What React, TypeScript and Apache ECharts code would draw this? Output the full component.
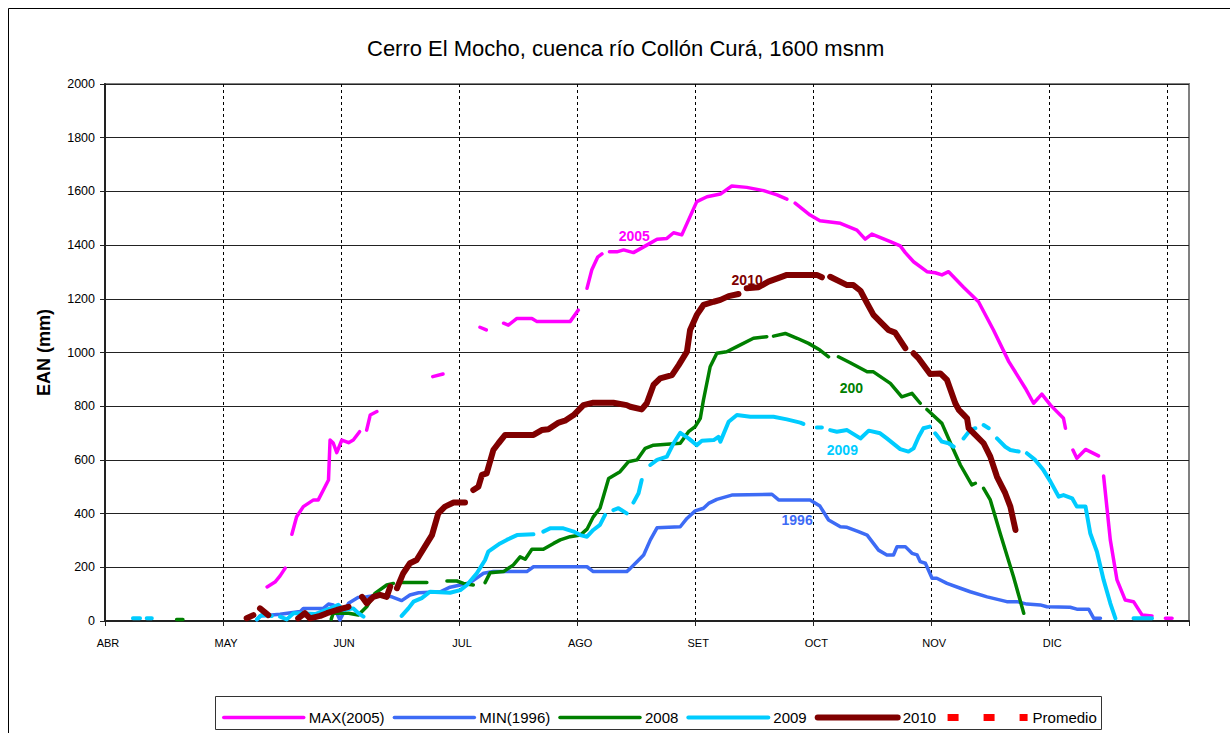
import React, { useEffect, useRef } from 'react';
import * as echarts from 'echarts';

const FONT = 'Arial, "Liberation Sans", Helvetica, sans-serif';

const TITLE = 'Cerro El Mocho, cuenca río Collón Curá, 1600 msnm';
const Y_NAME = 'EAN (mm)';
const MONTHS = ['ABR', 'MAY', 'JUN', 'JUL', 'AGO', 'SET', 'OCT', 'NOV', 'DIC'];

// x = days since 1 April (30 days per month on the axis), y = EAN in mm
type Pt = [number, number];

const MAX_2005: Pt[][] = [
  [[41.2, 127], [43.2, 145], [44.5, 168], [45.8, 197]],
  [[47.5, 323], [48.7, 388], [50.4, 426], [53.0, 451], [54.2, 451], [55.5, 488], [56.8, 525], [57.2, 674], [58.0, 663], [58.9, 627], [60.2, 674], [61.9, 664], [63.1, 674], [64.7, 705]],
  [[66.5, 711], [67.4, 767], [69.1, 780]],
  [[83.3, 910], [85.9, 920]],
  [[95.3, 1094], [96.9, 1084]],
  [[101.3, 1109], [102.5, 1102], [104.7, 1127], [108.5, 1127], [109.8, 1115], [118.2, 1115], [120.3, 1158]],
  [[122.5, 1239], [123.7, 1307], [125.2, 1355], [126.3, 1367]],
  [[128.2, 1375], [130.1, 1375], [131.8, 1382], [134.3, 1372], [137.7, 1400], [140.3, 1422], [142.8, 1425], [144.5, 1446], [146.6, 1438], [150.4, 1562], [153.0, 1580], [156.4, 1590], [159.3, 1620], [163.1, 1615], [167.4, 1603], [170.8, 1587], [173.3, 1571]],
  [[175.4, 1556], [179.2, 1512], [181.7, 1491], [186.9, 1481], [191.1, 1456], [193.2, 1422], [194.9, 1441], [199.6, 1413], [202.1, 1397], [203.4, 1372], [205.5, 1338], [208.9, 1301], [211.0, 1297], [212.7, 1289], [214.4, 1301], [218.2, 1243], [222.0, 1189], [225.8, 1084], [229.7, 966], [233.9, 867], [236.0, 811], [238.1, 845], [240.3, 804], [243.6, 755], [244.1, 718]],
  [[246.0, 637], [247.0, 606], [249.2, 639], [252.5, 615]],
  [[253.8, 540], [255.5, 302], [257.2, 153], [259.3, 78], [261.4, 72], [263.6, 22], [266.1, 19]],
  [[269.5, 10], [271.2, 10]],
];

const MIN_1996: Pt[][] = [
  [[38.6, 4], [39.4, 19], [44.5, 25], [49.6, 35], [50.4, 47], [55.5, 47], [56.8, 63], [58.0, 60], [59.7, 4], [61.9, 66], [64.4, 88], [66.5, 90], [69.9, 97], [72.9, 90], [75.4, 76], [77.5, 97], [79.7, 105], [85.2, 109], [87.7, 126], [90.3, 134], [92.8, 143], [96.2, 178], [98.7, 184], [107.2, 184], [108.9, 202], [122.5, 202], [124.1, 184], [132.6, 184], [133.5, 196], [135.2, 221], [136.9, 246], [138.6, 302], [140.3, 347], [146.2, 351], [147.9, 382], [150.0, 410], [152.1, 420], [153.4, 438], [155.5, 453], [159.3, 469], [169.5, 472], [171.2, 451], [179.2, 451], [181.7, 428], [183.9, 376], [186.9, 351], [188.6, 349], [191.5, 333], [193.7, 320], [196.6, 264], [198.7, 246], [200.4, 246], [201.3, 277], [203.4, 277], [205.1, 252], [206.4, 246], [207.2, 221], [208.5, 215], [210.2, 159], [211.4, 159], [214.0, 140], [217.4, 122], [219.9, 109], [224.2, 90], [229.2, 72], [231.8, 72], [234.3, 63], [237.7, 60], [239.4, 53], [245.3, 51], [247.0, 44], [250.0, 44], [251.3, 10], [253.0, 10]],
];

const Y_2008: Pt[][] = [
  [[18.2, 6], [19.8, 6]],
  [[57.5, 7], [58.0, 29], [61.9, 29], [64.4, 22], [66.5, 53], [68.6, 103], [71.6, 134], [73.3, 140]],
  [[75.0, 143], [81.8, 143]],
  [[86.9, 149], [89.4, 149], [91.1, 140], [93.6, 134]],
  [[96.6, 143], [97.9, 180], [101.3, 184], [103.8, 209], [105.5, 239], [106.8, 230], [108.5, 267], [111.4, 267], [114.0, 289], [115.7, 302], [118.2, 314], [120.8, 320], [122.5, 342], [124.1, 388], [125.8, 420], [128.0, 531], [130.9, 556], [133.0, 593], [135.2, 600], [137.3, 643], [139.4, 655], [146.2, 662], [148.3, 705], [150.0, 724], [151.3, 755], [152.1, 823], [153.8, 947], [155.5, 997], [158.0, 1003], [160.6, 1022], [164.8, 1053], [168.2, 1059]],
  [[169.9, 1061], [172.9, 1071], [175.9, 1053], [178.8, 1034], [181.7, 1009], [183.9, 984]],
  [[186.4, 984], [189.4, 962], [193.7, 928], [195.3, 928], [199.6, 885], [202.5, 835], [205.1, 848], [207.2, 811]],
  [[208.9, 788], [212.7, 736], [215.3, 649], [217.4, 581], [220.3, 507], [221.2, 513]],
  [[223.3, 494], [225.0, 451], [227.5, 327], [230.9, 165], [233.5, 29]],
];

const Y_2009: Pt[][] = [
  [[7.1, 10], [8.9, 10]],
  [[10.6, 10], [11.9, 10]],
  [[38.6, 6], [39.8, 22], [42.4, 19]],
  [[44.5, 16], [46.2, 6], [47.9, 29], [49.6, 29], [53.4, 26], [57.2, 47], [59.3, 60], [60.6, 41], [63.1, 47], [64.4, 29], [65.7, 16]],
  [[75.4, 19], [77.1, 47], [78.4, 72], [80.5, 85], [82.6, 109], [87.7, 105], [90.3, 115], [92.0, 134], [94.5, 178], [96.6, 227], [97.4, 258], [100.4, 289], [102.1, 302], [104.7, 320], [108.9, 323]],
  [[111.4, 333], [113.1, 345], [116.5, 345], [119.1, 333], [120.8, 320], [122.5, 314], [124.1, 339], [125.8, 358], [127.1, 395]],
  [[129.2, 413], [130.5, 420], [132.6, 401]],
  [[134.3, 441], [135.6, 476], [136.4, 525]],
  [[138.6, 581], [140.3, 600], [142.8, 612], [144.5, 662], [146.2, 701], [148.3, 680], [150.4, 655], [151.7, 671], [154.7, 674], [155.9, 686], [156.4, 668], [158.5, 742], [160.6, 767], [164.0, 761], [169.9, 761], [173.3, 751], [176.7, 739], [177.5, 734]],
  [[180.9, 721], [182.2, 721]],
  [[184.3, 711], [186.0, 705], [188.6, 711], [192.0, 680], [194.1, 709], [197.0, 699], [198.7, 680], [202.1, 640], [204.2, 631], [205.5, 643], [206.8, 686], [208.0, 718], [209.6, 724]],
  [[211.0, 699], [212.7, 668], [214.4, 662], [215.7, 649]],
  [[218.2, 680], [219.9, 711], [221.2, 718]],
  [[223.3, 730], [224.6, 718]],
  [[226.7, 680], [228.8, 649], [230.1, 637], [232.2, 631]],
  [[234.3, 625], [236.4, 600], [238.5, 562], [240.3, 519], [242.4, 463], [243.6, 469], [245.8, 457], [247.0, 426], [249.2, 426], [250.4, 327], [252.1, 258], [253.8, 153], [255.5, 66], [256.8, 10]],
  [[261.4, 10], [266.1, 10]],
];

const Y_2010: Pt[][] = [
  [[36.0, 10], [37.7, 22]],
  [[39.4, 47], [41.5, 22]],
  [[49.1, 10], [50.8, 29], [52.1, 10], [54.7, 19], [56.4, 29], [58.9, 41], [61.9, 53]],
  [[65.3, 90], [66.5, 66], [68.2, 90], [69.9, 97], [71.6, 90], [72.5, 128]],
  [[74.2, 122], [75.8, 178], [77.5, 215], [79.2, 227], [81.8, 289], [83.1, 320], [84.7, 401], [86.4, 426], [88.6, 441], [91.5, 441]],
  [[93.6, 488], [94.9, 500], [95.8, 544], [97.0, 550], [98.7, 637], [100.0, 662], [101.7, 693], [108.9, 693], [111.0, 711], [112.7, 714], [115.3, 739], [116.9, 746], [119.1, 767], [121.6, 804], [124.1, 813], [129.2, 813], [132.6, 804], [133.5, 798], [136.4, 788], [137.7, 811], [139.4, 879], [141.1, 904], [144.1, 916], [145.8, 953], [147.9, 1003], [148.7, 1084], [150.4, 1140], [152.1, 1177], [154.7, 1189], [156.4, 1196], [158.5, 1210], [161.0, 1218]],
  [[163.1, 1239], [166.1, 1243], [168.6, 1264], [171.6, 1280], [173.3, 1289], [180.9, 1289], [182.2, 1280]],
  [[184.3, 1282], [188.6, 1251], [190.2, 1251], [192.0, 1230], [193.7, 1183], [195.3, 1140], [197.0, 1115], [199.1, 1084], [200.8, 1074], [203.4, 1016]],
  [[205.5, 997], [206.8, 978], [209.7, 920], [212.3, 922], [214.0, 898], [216.1, 811], [217.0, 786], [219.1, 755], [219.5, 718], [220.8, 699], [223.3, 662], [225.0, 612], [226.7, 537], [228.8, 476], [230.1, 426], [231.4, 339]],
];

const PROMEDIO: Pt[][] = [];

const SERIES_NAMES = ['MAX(2005)', 'MIN(1996)', '2008', '2009', '2010', 'Promedio'];
const SERIES_COLORS = ['#FF00FF', '#3D6BF5', '#008000', '#00CCFF', '#800000', '#FF0000'];
const SERIES_WIDTHS = [3.5, 3.5, 3.5, 4, 6, 7];
const SERIES_LABELS = ['2005', '1996', '200', '2009', '2010', ''];
const LABEL_POS: (Pt | null)[] = [[134.5, 1434], [175.9, 376], [189.7, 868], [187.4, 637], [163.2, 1270], null];

function toData(segs: Pt[][]) {
  const out: any[] = [];
  segs.forEach((s, i) => {
    if (i > 0) out.push(['-', '-']);
    s.forEach((p) => out.push(p));
  });
  return out;
}

export default function App() {
  const ref = useRef<HTMLDivElement>(null);
  useEffect(() => {
    if (!ref.current) return;
    const chart = echarts.init(ref.current, null, { renderer: 'svg' });
    const all = [MAX_2005, MIN_1996, Y_2008, Y_2009, Y_2010, PROMEDIO];
    const series = all.map((segs, i) => {
      const lp = LABEL_POS[i];
      const s: any = {
        name: SERIES_NAMES[i],
        type: 'line',
        data: toData(segs),
        symbol: 'none',
        showSymbol: false,
        connectNulls: false,
        z: 2 + i,
        itemStyle: { color: SERIES_COLORS[i] },
        lineStyle: {
          color: SERIES_COLORS[i],
          width: SERIES_WIDTHS[i],
          cap: i === 5 ? 'butt' : 'round',
          join: 'round',
          type: i === 5 ? [11, 25] : 'solid',
        },
      };
      if (lp) {
        s.markPoint = {
          symbol: 'circle',
          symbolSize: 0,
          silent: true,
          label: {
            show: true,
            position: 'inside',
            formatter: SERIES_LABELS[i],
            color: SERIES_COLORS[i],
            fontWeight: 'bold',
            fontSize: 14,
            fontFamily: FONT,
          },
          data: [{ coord: lp }],
        };
      }
      return s;
    });
    chart.setOption({
      animation: false,
      backgroundColor: '#ffffff',
      title: {
        text: TITLE,
        left: 362,
        top: 32,
        textStyle: { fontSize: 22, fontWeight: 'normal', color: '#000', fontFamily: FONT },
      },
      grid: {
        left: 105,
        top: 84,
        right: 41,
        bottom: 112,
        show: true,
        borderColor: '#808080',
        borderWidth: 2,
        backgroundColor: '#ffffff',
      },
      legend: {
        left: 217,
        top: 705,
        itemWidth: 80,
        itemHeight: 16,
        itemGap: 8,
        data: SERIES_NAMES,
        lineStyle: { width: 'inherit' },
        itemStyle: { opacity: 0, borderWidth: 0 },
        textStyle: { fontSize: 15, color: '#000', fontFamily: FONT },
      },
      xAxis: {
        type: 'value',
        min: 0,
        max: 275.5,
        interval: 30,
        axisLine: { show: true, onZero: false, lineStyle: { color: '#222', width: 2 } },
        axisTick: { show: true, length: 5, lineStyle: { color: '#222' } },
        axisLabel: {
          formatter: (v: number) => (v % 30 === 0 && MONTHS[v / 30]) || '',
          fontSize: 11,
          color: '#000',
          fontFamily: FONT,
          margin: 16,
          padding: [0, 0, 0, 6],
        },
        splitLine: {
          show: true,
          showMinLine: false,
          showMaxLine: false,
          lineStyle: { color: '#000', type: [3, 3], width: 1 },
        },
      },
      yAxis: {
        type: 'value',
        min: 0,
        max: 2000,
        interval: 200,
        name: Y_NAME,
        nameLocation: 'middle',
        nameGap: 52,
        nameRotate: 90,
        nameTextStyle: { fontWeight: 'bold', fontSize: 18, color: '#000', fontFamily: FONT },
        axisLine: { show: true, lineStyle: { color: '#222', width: 2 } },
        axisTick: { show: true, length: 5, lineStyle: { color: '#222' } },
        axisLabel: {
          formatter: (v: number) => String(v),
          fontSize: 12.5,
          color: '#000',
          fontFamily: FONT,
          margin: 10,
        },
        splitLine: { show: true, lineStyle: { color: '#222', width: 1 } },
      },
      graphic: [
        {
          type: 'rect',
          silent: true,
          z: 100,
          shape: { x: 8.5, y: 8.5, width: 1240, height: 740 },
          style: { fill: 'none', stroke: '#000', lineWidth: 1 },
        },
        {
          type: 'rect',
          silent: true,
          z: 100,
          shape: { x: 215.5, y: 696.5, width: 886, height: 33 },
          style: { fill: 'none', stroke: '#333', lineWidth: 1 },
        },
      ],
      series,
    });
    return () => chart.dispose();
  }, []);
  return (
    <div
      ref={ref}
      style={{ position: 'fixed', left: 0, top: 0, width: 1230, height: 733, background: '#fff' }}
    />
  );
}
